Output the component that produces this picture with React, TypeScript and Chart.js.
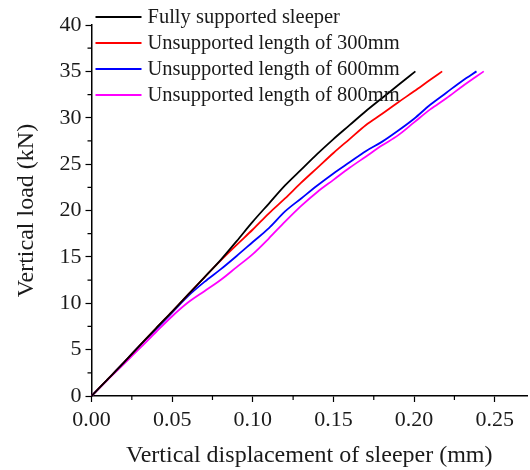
import React, { useEffect, useRef } from "react";
import { Chart, registerables } from "chart.js";

Chart.register(...registerables);

const seriesNames = [
  "Fully supported sleeper",
  "Unsupported length of 300mm",
  "Unsupported length of 600mm",
  "Unsupported length of 800mm",
];
const seriesColors = ["#000000", "#ff0000", "#0000ff", "#ff00ff"];

const fullX = [0, 0.01, 0.02, 0.03, 0.04, 0.05, 0.06, 0.07, 0.08, 0.09, 0.1, 0.11, 0.12, 0.13, 0.14, 0.15, 0.16, 0.17, 0.18, 0.19, 0.2008];
const fullY = [0, 1.8, 3.6, 5.45, 7.3, 9.1, 10.95, 12.8, 14.65, 16.7, 18.8, 20.75, 22.7, 24.4, 26.1, 27.7, 29.2, 30.7, 32.1, 33.5, 35];

const u300X = [0, 0.01, 0.02, 0.03, 0.04, 0.05, 0.06, 0.07, 0.08, 0.09, 0.1, 0.11, 0.12, 0.13, 0.14, 0.15, 0.16, 0.17, 0.18, 0.19, 0.2, 0.21, 0.2174];
const u300Y = [0, 1.8, 3.6, 5.45, 7.3, 9.1, 10.95, 12.8, 14.6, 16.3, 17.95, 19.7, 21.3, 23.0, 24.6, 26.2, 27.7, 29.2, 30.4, 31.65, 32.85, 34.1, 35];

const u600X = [0, 0.01, 0.02, 0.03, 0.04, 0.05, 0.06, 0.07, 0.08, 0.09, 0.1, 0.11, 0.12, 0.13, 0.14, 0.15, 0.16, 0.17, 0.18, 0.19, 0.2, 0.21, 0.22, 0.23, 0.2387];
const u600Y = [0, 1.8, 3.6, 5.45, 7.2, 9.0, 10.8, 12.3, 13.65, 15.1, 16.6, 18.1, 19.9, 21.3, 22.7, 24.0, 25.2, 26.4, 27.4, 28.6, 29.9, 31.4, 32.7, 34.0, 35];

const u800X = [0, 0.01, 0.02, 0.03, 0.04, 0.05, 0.06, 0.07, 0.08, 0.09, 0.1, 0.11, 0.12, 0.13, 0.14, 0.15, 0.16, 0.17, 0.18, 0.19, 0.2, 0.21, 0.22, 0.23, 0.2432];
const u800Y = [0, 1.75, 3.45, 5.15, 6.9, 8.6, 10.1, 11.3, 12.5, 13.9, 15.3, 17.0, 18.8, 20.5, 22.0, 23.3, 24.6, 25.8, 27.0, 28.1, 29.5, 30.9, 32.1, 33.4, 35];

const xTitle = "Vertical displacement of sleeper (mm)";
const yTitle = "Vertical load (kN)";

const FONT = "'Times New Roman', 'Liberation Serif', serif";
const TEXT = "#1a1a1a";

const pairs = (xs: number[], ys: number[]) => xs.map((x, i) => ({ x, y: ys[i] }));

const minorTicks = {
  id: "minorTicks",
  afterDraw(chart: any) {
    const ctx = chart.ctx;
    const xs = chart.scales.x;
    const ys = chart.scales.y;
    ctx.save();
    ctx.strokeStyle = "#000";
    ctx.lineWidth = 1.2;
    ctx.beginPath();
    for (let v = 0.025; v < 0.27; v += 0.05) {
      const px = xs.getPixelForValue(v);
      ctx.moveTo(px, xs.top);
      ctx.lineTo(px, xs.top + 4);
    }
    for (let v = 2.5; v < 40; v += 5) {
      const py = ys.getPixelForValue(v);
      ctx.moveTo(ys.right, py);
      ctx.lineTo(ys.right - 4, py);
    }
    ctx.stroke();
    ctx.restore();
  },
};

const customLegend = {
  id: "customLegend",
  afterDraw(chart: any) {
    const ctx = chart.ctx;
    const area = chart.chartArea;
    ctx.save();
    ctx.font = `20.5px ${FONT}`;
    ctx.textBaseline = "middle";
    ctx.textAlign = "left";
    seriesNames.forEach((name, i) => {
      const y = area.top - 8 + i * 26;
      ctx.strokeStyle = seriesColors[i];
      ctx.lineWidth = 2;
      ctx.beginPath();
      ctx.moveTo(area.left + 4, y);
      ctx.lineTo(area.left + 50, y);
      ctx.stroke();
      ctx.fillStyle = TEXT;
      ctx.fillText(name, area.left + 56, y + 1);
    });
    ctx.restore();
  },
};

export default function App() {
  const ref = useRef<HTMLCanvasElement | null>(null);
  useEffect(() => {
    if (!ref.current) return;
    const chart = new Chart(ref.current, {
      type: "line",
      data: {
        datasets: [
          { label: seriesNames[0], data: pairs(fullX, fullY) },
          { label: seriesNames[1], data: pairs(u300X, u300Y) },
          { label: seriesNames[2], data: pairs(u600X, u600Y) },
          { label: seriesNames[3], data: pairs(u800X, u800Y) },
        ].map((d, i) => ({
          ...d,
          borderColor: seriesColors[i],
          backgroundColor: seriesColors[i],
          borderWidth: 1.8,
          pointRadius: 0,
          cubicInterpolationMode: "monotone",
          fill: false,
        })),
      },
      options: {
        responsive: false,
        animation: false,
        layout: { padding: { left: 0, top: 25, right: 3, bottom: 0 } },
        plugins: { legend: { display: false }, tooltip: { enabled: false } },
        scales: {
          x: {
            type: "linear",
            min: 0,
            max: 0.27,
            afterFit: (s: any) => { s.height = 74; },
            border: { display: true, color: "#000", width: 1.5 },
            grid: { display: true, drawOnChartArea: false, drawTicks: true, tickLength: 6, color: "#000", tickWidth: 1.2 },
            ticks: {
              stepSize: 0.05,
              includeBounds: false,
              color: TEXT,
              font: { family: FONT, size: 22 },
              padding: 5,
              maxRotation: 0,
              callback: (v: any) => Number(v).toFixed(2),
            },
            title: { display: true, text: xTitle, color: TEXT, font: { family: FONT, size: 24 }, padding: { top: 0, bottom: 0 } },
          },
          y: {
            type: "linear",
            min: 0,
            max: 40,
            afterFit: (s: any) => { s.width = 91.5; },
            border: { display: true, color: "#000", width: 1.5 },
            grid: { display: true, drawOnChartArea: false, drawTicks: true, tickLength: 6, color: "#000", tickWidth: 1.2 },
            ticks: {
              stepSize: 5,
              includeBounds: false,
              color: TEXT,
              font: { family: FONT, size: 22 },
              padding: 4,
            },
            title: { display: true, text: yTitle, color: TEXT, font: { family: FONT, size: 24 }, padding: { top: 12, bottom: 0 } },
          },
        },
      },
      plugins: [minorTicks, customLegend],
    } as any);
    return () => chart.destroy();
  }, []);
  return (
    <div style={{ position: "absolute", left: 0, top: 0, width: 530, height: 470, background: "#fff" }}>
      <canvas ref={ref} width={530} height={470} style={{ display: "block" }} />
    </div>
  );
}
